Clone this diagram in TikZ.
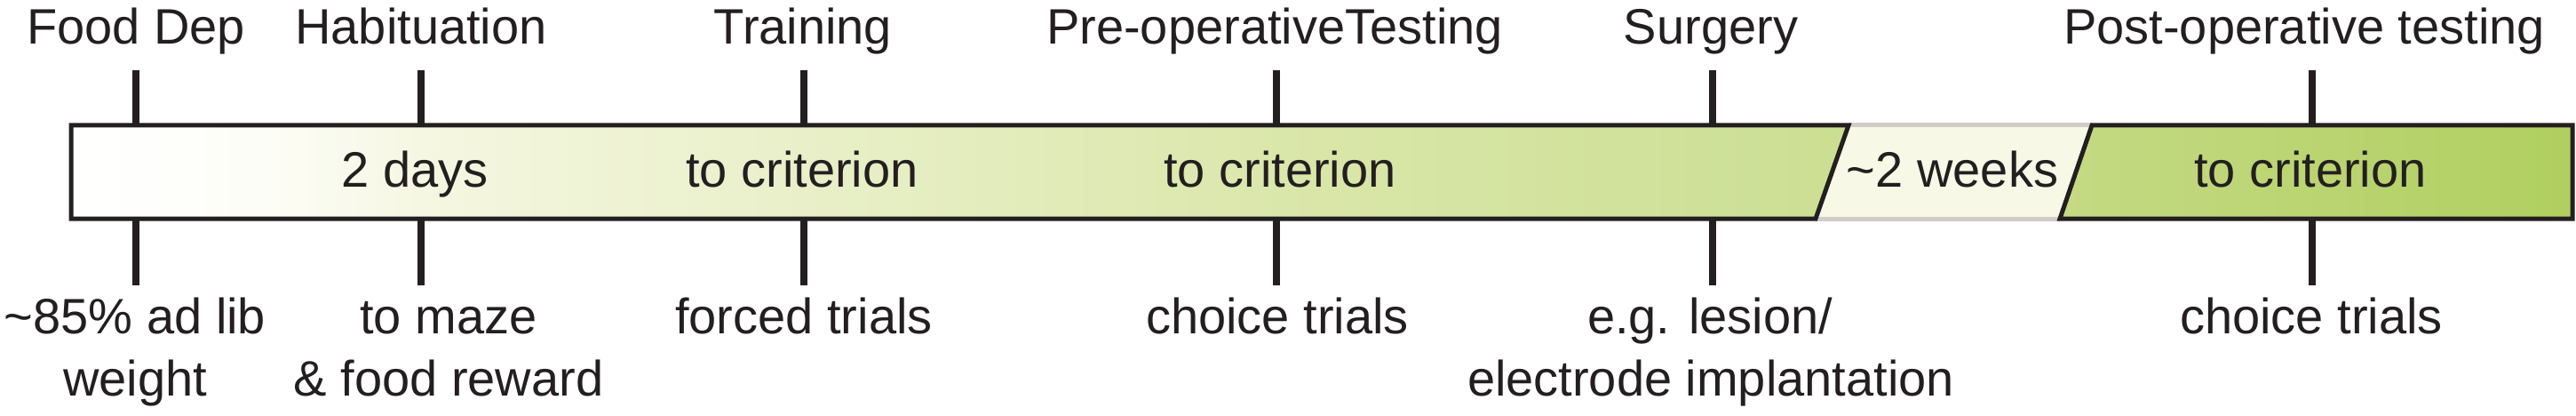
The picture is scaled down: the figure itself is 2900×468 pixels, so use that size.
\documentclass[tikz,border=0pt]{standalone}
\usepackage{fontspec}
\setmainfont{Liberation Sans}
\definecolor{ink}{HTML}{231F20}
\definecolor{gapfill}{HTML}{F7F8E6}
\definecolor{gapedge}{HTML}{D2CCC6}
\definecolor{shA}{HTML}{FDFDF7}
\definecolor{shB}{HTML}{F4F6DF}
\definecolor{shC}{HTML}{E6EEC3}
\definecolor{shD}{HTML}{D9E6A8}
\definecolor{shE}{HTML}{CDE096}
\definecolor{shF}{HTML}{C3D981}
\definecolor{shG}{HTML}{B0CF60}
\pgfdeclarehorizontalshading{barshade}{100bp}{color(0bp)=(white); color(25bp)=(white); color(28.9bp)=(shA); color(32.5bp)=(shB); color(41.5bp)=(shC); color(50bp)=(shD); color(59bp)=(shE); color(65.5bp)=(shF); color(75bp)=(shG); color(100bp)=(shG)}
\begin{document}
\begin{tikzpicture}[x=1pt,y=-1pt,
  lbl/.style={anchor=base, inner sep=0pt, text=ink, font=\fontsize{56}{70}\selectfont},
  tick/.style={draw=ink, line width=7.5pt},
  barline/.style={draw=ink, line width=5pt, line join=miter},
  gapline/.style={draw=gapedge, line width=5pt}]
\useasboundingbox (0,0) rectangle (2900,468);
% bar geometry
\coordinate (b1) at (80,141);
\coordinate (b2) at (2081,141);
\coordinate (b3) at (2044,246);
\coordinate (b4) at (80,246);
\coordinate (c1) at (2355,141);
\coordinate (c2) at (2896,141);
\coordinate (c3) at (2896,246);
\coordinate (c4) at (2319,246);
% fills
\shade[shading=barshade] (b1) -- (b2) -- (b3) -- (b4) -- cycle (c1) -- (c2) -- (c3) -- (c4) -- cycle;
\fill[gapfill] (b2) -- (c1) -- (c4) -- (b3) -- cycle;
\draw[gapline] (b2) -- (c1);
\draw[gapline] (b3) -- (c4);
\draw[barline] (b1) -- (b2) -- (b3) -- (b4) -- cycle;
\draw[barline] (c1) -- (c2) -- (c3) -- (c4) -- cycle;
% ticks
\foreach \n/\x in {fd/153, hb/474, tr/905, pre/1437, sg/1928, post/2603}{
  \coordinate (\n-ut) at (\x,79);
  \coordinate (\n-ub) at (\x,141);
  \coordinate (\n-lt) at (\x,246);
  \coordinate (\n-lb) at (\x,321);
  \draw[tick] (\n-ut) -- (\n-ub);
  \draw[tick] (\n-lt) -- (\n-lb);
}
% top labels
\node[lbl] (Lfd) at (153,50) {Food Dep};
\node[lbl] (Lhb) at (474,50) {Habituation};
\node[lbl] (Ltr) at (904,50) {Training};
\node[lbl] (Lpre) at (1435,50) {Pre-operativeTesting};
\node[lbl] (Lsg) at (1926,50) {Surgery};
\node[lbl] (Lpost) at (2594,50) {Post-operative testing};
% in-bar labels
\node[lbl] (Ihb) at (467,210) {2 days};
\node[lbl] (Itr) at (903,210) {to criterion};
\node[lbl] (Ipre) at (1441,210) {to criterion};
\node[lbl] (Igap) at (2198,210) {\textasciitilde2 weeks};
\node[lbl] (Ipost) at (2601,210) {to criterion};
% bottom labels
\node[lbl] (Bfd1) at (152,375) {\textasciitilde85\% ad lib};
\node[lbl] (Bfd2) at (152,445) {weight};
\node[lbl] (Bhb1) at (505,375) {to maze};
\node[lbl] (Bhb2) at (505,445) {\& food reward};
\node[lbl] (Btr) at (905,375) {forced trials};
\node[lbl] (Bpre) at (1438,375) {choice trials};
\node[lbl] (Bsg1) at (1925,375) {e.g. lesion/};
\node[lbl] (Bsg2) at (1926,445) {electrode implantation};
\node[lbl] (Bpost) at (2602,375) {choice trials};
\end{tikzpicture}
\end{document}
